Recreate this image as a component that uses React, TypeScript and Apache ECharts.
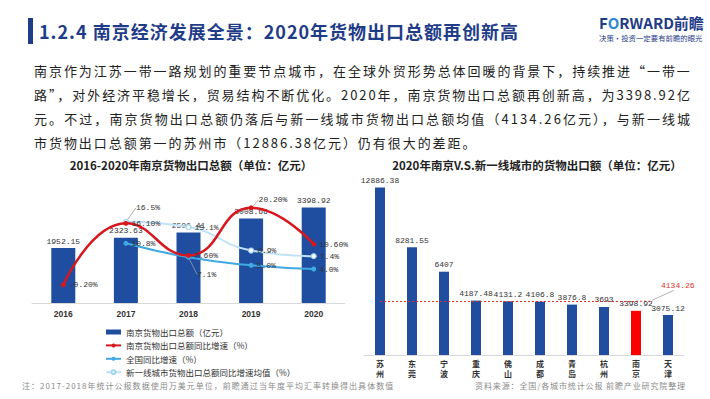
import React, { useEffect, useRef } from "react";
import * as echarts from "echarts";

// ---------- data ----------
const years = ["2016", "2017", "2018", "2019", "2020"];
const exportTotal = [1952.15, 2323.63, 2506.41, 3008.66, 3398.92];
const njGrowth = [-0.2, 16.1, 7.6, 20.2, 10.6];
const nationalGrowth = [null, 10.8, 7.1, 5.0, 4.0];
const tier1Growth = [null, 16.5, 15.1, 8.9, 7.4];

const cities = ["苏州", "东莞", "宁波", "重庆", "佛山", "成都", "青岛", "杭州", "南京", "天津"];
const cityExports = [12886.38, 8281.55, 6407, 4187.48, 4131.2, 4106.8, 3876.8, 3693, 3398.92, 3075.12];
const tier1Avg = 4134.26;
const highlightCity = "南京";

const seriesNames = [
  "南京货物出口总额（亿元）",
  "南京货物出口总额同比增速（%）",
  "全国同比增速（%）",
  "新一线城市货物出口总额同比增速均值（%）",
];

const titleText = "1.2.4 南京经济发展全景：2020年货物出口总额再创新高";
const paragraphLines = [
  "南京作为江苏一带一路规划的重要节点城市，在全球外贸形势总体回暖的背景下，持续推进“一带一",
  "路”，对外经济平稳增长，贸易结构不断优化。2020年，南京货物出口总额再创新高，为3398.92亿",
  "元。不过，南京货物出口总额仍落后与新一线城市货物出口总额均值（4134.26亿元），与新一线城",
  "市货物出口总额第一的苏州市（12886.38亿元）仍有很大的差距。",
];
const leftChartTitle = "2016-2020年南京货物出口总额（单位：亿元）";
const rightChartTitle = "2020年南京V.S.新一线城市的货物出口额（单位：亿元）";
const noteText = "注：2017-2018年统计公报数据使用万美元单位，前瞻通过当年度平均汇率转换得出具体数值";
const sourceText = "资料来源：全国/各城市统计公报 前瞻产业研究院整理";
const logoSub = "决策·投资一定要有前瞻的眼光";

// ---------- style helpers (label shifts, not data) ----------
const njShift: (number[] | null)[] = [null, null, null, [2, -8], null];
const natShift: (number[] | null)[] = [null, null, [3, 17], null, null];
const t1Shift: (number[] | null)[] = [null, [4, -14], null, null, null];

const BLUE = "#1f4ea1";
const NAVY = "#1f3c88";
const CJK = "'Noto Sans CJK SC', 'Noto Sans', sans-serif";
const MONO = "'Liberation Mono', 'DejaVu Sans Mono', monospace";

function lineData(values: (number | null)[], shift: (number[] | null)[]) {
  return values.map((v, i) => ({
    value: v,
    labelLine: shift[i]
      ? { show: true, lineStyle: { color: "#9a9a9a", width: 0.8 } }
      : { show: false },
  }));
}

function lineLabel(digits: number) {
  return {
    show: true,
    position: "right",
    distance: 3,
    fontSize: 8,
    fontFamily: MONO,
    color: "#333",
    formatter: (p: any) =>
      p.value == null ? "" : Number(p.value).toFixed(digits) + "%",
  };
}

function shiftLayout(shift: (number[] | null)[]) {
  return (params: any) => {
    const s = shift[params.dataIndex];
    return s ? { dx: s[0], dy: s[1] } : {};
  };
}

function baseGraphics() {
  return [
    { id: "tbar", type: "rect", shape: { x: 28, y: 18, width: 5, height: 26 }, style: { fill: NAVY } },
    {
      id: "title",
      type: "text",
      style: { text: titleText, x: 39, y: 31, fill: NAVY, fontSize: 18, fontWeight: "bold", fontFamily: CJK, align: "left", verticalAlign: "middle" },
    },
    {
      id: "logo",
      type: "text",
      style: {
        text: "{a|F}{b|O}{a|RWARD前瞻}",
        x: 599,
        y: 22,
        align: "left",
        verticalAlign: "middle",
        rich: {
          a: { fontSize: 15, lineHeight: 15, fontWeight: "bold", fill: NAVY, fontFamily: CJK },
          b: { fontSize: 15, lineHeight: 15, fontWeight: "bold", fill: "#2e86d6", fontFamily: CJK },
        },
      },
    },
    {
      id: "logoSub",
      type: "text",
      style: { text: logoSub, x: 599, y: 37.5, fill: NAVY, fontSize: 7.4, lineHeight: 8, fontFamily: CJK, align: "left", verticalAlign: "middle" },
    },
    ...paragraphLines.map((t, i) => ({
      id: "para" + i,
      type: "text",
      style: { text: t, x: 34, y: 70 + i * 24, fill: "#222", fontSize: 13, fontFamily: CJK, align: "left", verticalAlign: "middle" },
    })),
    {
      id: "ltitle",
      type: "text",
      style: { text: leftChartTitle, x: 191, y: 165, fill: "#222", fontSize: 11.5, fontWeight: "bold", fontFamily: CJK, align: "center", verticalAlign: "middle" },
    },
    {
      id: "rtitle",
      type: "text",
      style: { text: rightChartTitle, x: 537, y: 165, fill: "#222", fontSize: 11.5, fontWeight: "bold", fontFamily: CJK, align: "center", verticalAlign: "middle" },
    },
    {
      id: "note",
      type: "text",
      style: { text: noteText, x: 22, y: 385, fill: "#8a8a8a", fontSize: 8, fontFamily: CJK, align: "left", verticalAlign: "middle" },
    },
    {
      id: "source",
      type: "text",
      style: { text: sourceText, x: 475, y: 385, fill: "#8a8a8a", fontSize: 8, fontFamily: CJK, align: "left", verticalAlign: "middle" },
    },
  ];
}

function buildOption(): any {
  return {
    animation: false,
    backgroundColor: "#ffffff",
    textStyle: { fontFamily: CJK },
    grid: [
      { left: 32, top: 176.5, width: 313, height: 126.5 },
      { left: 364, top: 173, width: 320, height: 182 },
    ],
    xAxis: [
      {
        gridIndex: 0,
        type: "category",
        data: years,
        axisLine: { lineStyle: { color: "#d9d9d9" } },
        axisTick: { show: false },
        axisLabel: { margin: 6, fontSize: 8.5, fontWeight: "bold", color: "#333", fontFamily: "'Liberation Sans', Arial, sans-serif" },
      },
      {
        gridIndex: 1,
        type: "category",
        data: cities,
        axisLine: { lineStyle: { color: "#d9d9d9" } },
        axisTick: { show: false },
        axisLabel: {
          margin: 3,
          fontSize: 8,
          lineHeight: 10,
          fontWeight: "bold",
          color: "#333",
          fontFamily: CJK,
          formatter: (v: string) => v.split("").join("\n"),
        },
      },
    ],
    yAxis: [
      { gridIndex: 0, type: "value", min: 0, max: 4500, show: false },
      { gridIndex: 0, type: "value", min: -5, max: 28.5, show: false },
      { gridIndex: 1, type: "value", min: 0, max: 14000, show: false },
    ],
    legend: {
      orient: "vertical",
      left: 100,
      top: 322,
      itemWidth: 15,
      itemHeight: 5,
      itemGap: 3.4,
      textStyle: { fontSize: 8.5, color: "#333", fontFamily: CJK, lineHeight: 10 },
      data: [
        { name: seriesNames[0], icon: "rect" },
        { name: seriesNames[1] },
        { name: seriesNames[2] },
        { name: seriesNames[3] },
      ],
    },
    series: [
      {
        name: seriesNames[0],
        type: "bar",
        xAxisIndex: 0,
        yAxisIndex: 0,
        data: exportTotal,
        barWidth: 24,
        itemStyle: { color: BLUE },
        label: { show: true, position: "top", distance: 3, fontSize: 8, fontFamily: MONO, color: "#333", formatter: (p: any) => String(p.value) },
      },
      {
        name: seriesNames[3],
        type: "line",
        xAxisIndex: 0,
        yAxisIndex: 1,
        smooth: true,
        data: lineData(tier1Growth, t1Shift),
        lineStyle: { color: "#bfe2f6", width: 2 },
        itemStyle: { color: "#ffffff", borderColor: "#9fd3f0", borderWidth: 1.2 },
        symbol: "circle",
        symbolSize: 5,
        label: lineLabel(1),
        labelLayout: shiftLayout(t1Shift),
        z: 3,
      },
      {
        name: seriesNames[2],
        type: "line",
        xAxisIndex: 0,
        yAxisIndex: 1,
        smooth: true,
        data: lineData(nationalGrowth, natShift),
        lineStyle: { color: "#40a9e3", width: 2 },
        itemStyle: { color: "#40a9e3" },
        symbol: "circle",
        symbolSize: 5,
        label: lineLabel(1),
        labelLayout: shiftLayout(natShift),
        z: 4,
      },
      {
        name: seriesNames[1],
        type: "line",
        xAxisIndex: 0,
        yAxisIndex: 1,
        smooth: true,
        data: lineData(njGrowth, njShift),
        lineStyle: { color: "#d7161e", width: 2.5 },
        itemStyle: { color: "#d7161e" },
        symbol: "circle",
        symbolSize: 5,
        label: lineLabel(2),
        labelLayout: shiftLayout(njShift),
        z: 5,
      },
      {
        name: "2020年货物出口额",
        type: "bar",
        xAxisIndex: 1,
        yAxisIndex: 2,
        data: cityExports,
        barWidth: 10,
        itemStyle: {
          color: (p: any) => (cities[p.dataIndex] === highlightCity ? "#ff0000" : BLUE),
        },
        label: { show: true, position: "top", distance: 3, fontSize: 8, fontFamily: MONO, color: "#333", formatter: (p: any) => String(p.value) },
        markLine: {
          silent: true,
          symbol: "none",
          label: { show: false },
          lineStyle: { color: "#e0302a", width: 1, type: [2, 2] },
          data: [[{ coord: [cities[0], tier1Avg] }, { coord: [highlightCity, tier1Avg] }]],
        },
      },
    ],
    graphic: baseGraphics(),
  };
}

function applySpacing(root: HTMLElement) {
  const nodes = Array.from(root.querySelectorAll("text")) as SVGTextElement[];
  const find = (s: string) => nodes.find((n) => n.textContent === s);
  const spread = (s: string, width: number) => {
    const n = find(s);
    if (!n) return 0;
    const len = n.getComputedTextLength();
    const count = Array.from(s).length;
    const ls = (width - len) / (count - 1);
    n.setAttribute("letter-spacing", ls.toFixed(2));
    return ls;
  };
  spread(titleText, 479);
  let ls0 = 0;
  paragraphLines.slice(0, 3).forEach((t, i) => {
    const v = spread(t, 656);
    if (i === 0) ls0 = v;
  });
  const last = find(paragraphLines[3]);
  if (last) last.setAttribute("letter-spacing", ls0.toFixed(2));
  spread(noteText, 371);
  spread(sourceText, 210);
}

export default function App() {
  const ref = useRef<HTMLDivElement>(null);
  useEffect(() => {
    const el = ref.current!;
    const chart = echarts.init(el, null, { renderer: "svg" });
    chart.setOption(buildOption());
    const p = chart.convertToPixel({ gridIndex: 1 }, [highlightCity, tier1Avg]) as number[];
    if (p && isFinite(p[0])) {
      chart.setOption({
        graphic: [
          ...baseGraphics(),
          {
            id: "avgExt",
            type: "line",
            shape: { x1: p[0], y1: p[1], x2: p[0] + 14, y2: p[1] },
            style: { stroke: "#e0302a", lineWidth: 1, lineDash: [2, 2] },
          },
          {
            id: "avgLeader",
            type: "line",
            shape: { x1: p[0] + 16, y1: p[1] - 1, x2: p[0] + 38, y2: p[1] - 11 },
            style: { stroke: "#a0a0a0", lineWidth: 0.8 },
          },
          {
            id: "avgLabel",
            type: "text",
            style: {
              text: String(tier1Avg),
              x: p[0] + 25,
              y: p[1] - 16,
              fill: "#e0302a",
              fontSize: 8,
              fontFamily: MONO,
              align: "left",
              verticalAlign: "middle",
            },
          },
        ],
      });
    }
    applySpacing(el);
    return () => chart.dispose();
  }, []);
  return (
    <div
      ref={ref}
      style={{ position: "fixed", left: 0, top: 0, width: 710, height: 399, background: "#fff" }}
    />
  );
}
